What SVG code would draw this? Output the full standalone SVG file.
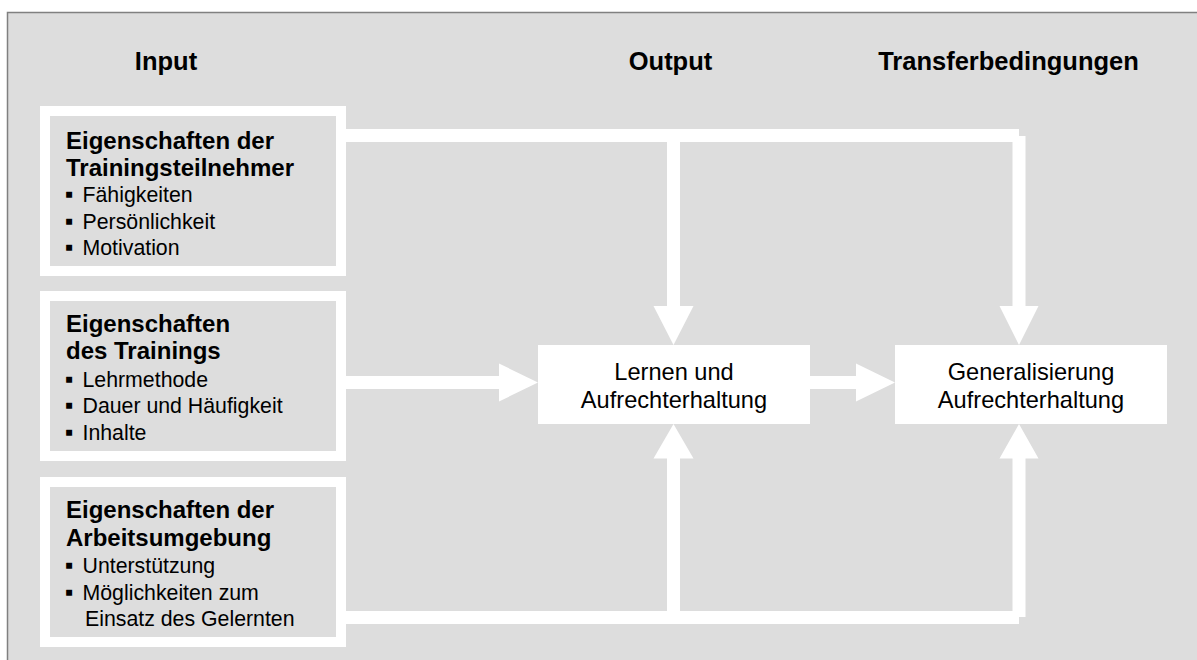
<svg xmlns="http://www.w3.org/2000/svg" width="1197" height="660" viewBox="0 0 1197 660">
<style>
.frame{fill:#dddddd;stroke:#808080;stroke-width:1.5}
.inbox{fill:#dddddd;stroke:#ffffff;stroke-width:10}
.outbox{fill:#ffffff}
.conn{fill:#ffffff}
.hdr{font-family:"Liberation Sans",Arial,sans-serif;font-weight:bold;font-size:25.5px;fill:#000}
.ttl{font-family:"Liberation Sans",Arial,sans-serif;font-weight:bold;font-size:24px;fill:#000}
.itm{font-family:"Liberation Sans",Arial,sans-serif;font-size:21.3px;fill:#000}
.bul{font-family:"Liberation Sans","DejaVu Sans",sans-serif;font-size:24px;fill:#000}
.nd{font-family:"Liberation Sans",Arial,sans-serif;font-size:23.6px;fill:#000;text-anchor:middle}
</style>
<rect class="frame" x="7.5" y="12.5" width="1200" height="660"/>
<g id="headers">
<text class="hdr" x="166" y="70" text-anchor="middle">Input</text>
<text class="hdr" x="670.5" y="70" text-anchor="middle">Output</text>
<text class="hdr" x="1008.5" y="70" text-anchor="middle">Transferbedingungen</text>
</g>
<g id="connectors">
<rect class="conn" x="346" y="129" width="673" height="13"/>
<polygon class="conn" points="667,142 680,142 680,306 693.5,306 673.5,345 653.5,306 667,306"/>
<polygon class="conn" points="1012.5,136 1025.5,136 1025.5,306 1038.5,306 1019,345 999.5,306 1012.5,306"/>
<polygon class="conn" points="346,376 499,376 499,363.5 538,382.5 499,401.5 499,389 346,389"/>
<polygon class="conn" points="810,376 856,376 856,363.5 895,382.5 856,401.5 856,389 810,389"/>
<rect class="conn" x="346" y="611" width="673" height="13"/>
<polygon class="conn" points="667,611 680,611 680,458.5 693.5,458.5 673.5,424 653.5,458.5 667,458.5"/>
<polygon class="conn" points="1012.5,617 1025.5,617 1025.5,458.5 1038.5,458.5 1019,424 999.5,458.5 1012.5,458.5"/>
</g>
<g id="teilnehmer">
<rect class="inbox" x="45" y="111" width="296" height="160"/>
<text class="ttl" x="66" y="149">Eigenschaften der</text>
<text class="ttl" x="66" y="175.5">Trainingsteilnehmer</text>
<text class="bul" x="65" y="201.5">▪</text><text class="itm" x="82.5" y="201.5">Fähigkeiten</text>
<text class="bul" x="65" y="228.5">▪</text><text class="itm" x="82.5" y="228.5">Persönlichkeit</text>
<text class="bul" x="65" y="255">▪</text><text class="itm" x="82.5" y="255">Motivation</text>
</g>
<g id="training">
<rect class="inbox" x="45" y="296" width="296" height="160"/>
<text class="ttl" x="66" y="332">Eigenschaften</text>
<text class="ttl" x="66" y="359">des Trainings</text>
<text class="bul" x="65" y="386.5">▪</text><text class="itm" x="82.5" y="386.5">Lehrmethode</text>
<text class="bul" x="65" y="413">▪</text><text class="itm" x="82.5" y="413">Dauer und Häufigkeit</text>
<text class="bul" x="65" y="439.5">▪</text><text class="itm" x="82.5" y="439.5">Inhalte</text>
</g>
<g id="arbeitsumgebung">
<rect class="inbox" x="45" y="482" width="296" height="160"/>
<text class="ttl" x="66" y="518">Eigenschaften der</text>
<text class="ttl" x="66" y="545.5">Arbeitsumgebung</text>
<text class="bul" x="65" y="573">▪</text><text class="itm" x="82.5" y="573">Unterstützung</text>
<text class="bul" x="65" y="599.5">▪</text><text class="itm" x="82.5" y="599.5">Möglichkeiten zum</text>
<text class="itm" x="85" y="625.5">Einsatz des Gelernten</text>
</g>
<g id="lernen">
<rect class="outbox" x="538" y="345" width="272" height="79"/>
<text class="nd" x="674" y="380">Lernen und</text>
<text class="nd" x="674" y="408">Aufrechterhaltung</text>
</g>
<g id="generalisierung">
<rect class="outbox" x="895" y="345" width="272" height="79"/>
<text class="nd" x="1031" y="380">Generalisierung</text>
<text class="nd" x="1031" y="408">Aufrechterhaltung</text>
</g>
</svg>
